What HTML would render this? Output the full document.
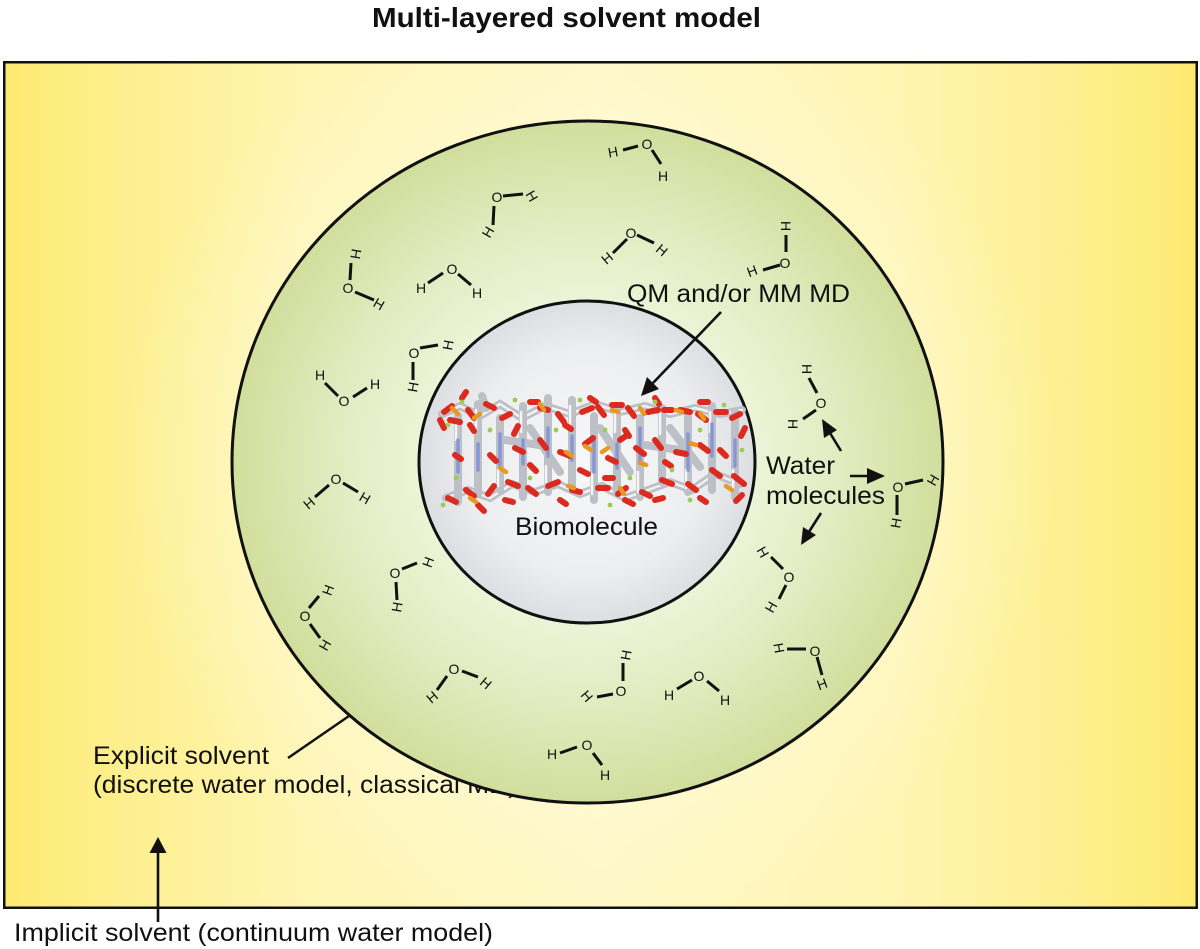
<!DOCTYPE html>
<html>
<head>
<meta charset="utf-8">
<style>
  html, body { margin: 0; padding: 0; background: #ffffff; }
  svg { display: block; }
  .lbl { font-family: "Liberation Sans", Arial, sans-serif; fill: #111; }
  .at { font-family: "Liberation Sans", Arial, sans-serif; font-size: 14px; fill: #111; text-anchor: middle; dominant-baseline: central; }
  .bd { stroke: #111; stroke-width: 3; }
</style>
</head>
<body>
<svg width="1200" height="949" viewBox="0 0 1200 949" xmlns="http://www.w3.org/2000/svg">
  <defs>
    <linearGradient id="yel" x1="0" y1="0" x2="1" y2="0">
      <stop offset="0" stop-color="#fdea72"/>
      <stop offset="0.1" stop-color="#fdef8e"/>
      <stop offset="0.25" stop-color="#fef5b2"/>
      <stop offset="0.5" stop-color="#fef8c6"/>
      <stop offset="0.75" stop-color="#fef5b2"/>
      <stop offset="0.9" stop-color="#fdef8e"/>
      <stop offset="1" stop-color="#fdea72"/>
    </linearGradient>
    <radialGradient id="yelGlow" gradientUnits="userSpaceOnUse" cx="587" cy="462" r="470">
      <stop offset="0.6" stop-color="#fffbe0" stop-opacity="0.7"/>
      <stop offset="0.8" stop-color="#fffad8" stop-opacity="0.3"/>
      <stop offset="1" stop-color="#fffad8" stop-opacity="0"/>
    </radialGradient>
    <radialGradient id="grn" cx="0.5" cy="0.5" r="0.5">
      <stop offset="0" stop-color="#f6f9e8"/>
      <stop offset="0.48" stop-color="#edf3d6"/>
      <stop offset="0.72" stop-color="#e1ebbf"/>
      <stop offset="1" stop-color="#d1de9c"/>
    </radialGradient>
    <radialGradient id="gry" cx="0.5" cy="0.5" r="0.5">
      <stop offset="0" stop-color="#f7f7f8"/>
      <stop offset="0.7" stop-color="#edeef0"/>
      <stop offset="1" stop-color="#dddee2"/>
    </radialGradient>
  </defs>

  <!-- Title -->
  <text class="lbl" x="372" y="27" font-size="28" font-weight="bold" textLength="389" lengthAdjust="spacingAndGlyphs">Multi-layered solvent model</text>

  <!-- Implicit solvent box -->
  <rect x="4.25" y="62.25" width="1192.5" height="845.5" fill="url(#yel)"/>
  <rect x="4.25" y="62.25" width="1192.5" height="845.5" fill="url(#yelGlow)"/>
  <rect x="4.25" y="62.25" width="1192.5" height="845.5" fill="none" stroke="#111" stroke-width="2.5"/>

  <!-- Explicit solvent label (partly hidden under circle) -->
  <text class="lbl" x="93" y="764" font-size="25" textLength="176" lengthAdjust="spacingAndGlyphs">Explicit solvent</text>
  <text class="lbl" x="93" y="793" font-size="25" textLength="424" lengthAdjust="spacingAndGlyphs">(discrete water model, classical MD)</text>
  <line x1="288" y1="758" x2="349" y2="716" stroke="#111" stroke-width="2.5"/>

  <!-- Outer circle -->
  <ellipse cx="587.5" cy="462" rx="355.5" ry="341" fill="url(#grn)" stroke="#111" stroke-width="3"/>

  <!-- Water molecules -->
  <g>
    <line class="bd" x1="623" y1="150" x2="638" y2="146"/><line class="bd" x1="652" y1="150" x2="661" y2="164"/>
    <text class="at" x="647" y="144">O</text>
    <text class="at" x="613" y="152" transform="rotate(-10 613 152)">H</text>
    <text class="at" x="663" y="176">H</text>

    <line class="bd" x1="503" y1="196" x2="523" y2="194"/><line class="bd" x1="494" y1="206" x2="493" y2="225"/>
    <text class="at" x="497" y="197">O</text>
    <text class="at" x="532" y="196" transform="rotate(60 532 196)">H</text>
    <text class="at" x="488" y="232" transform="rotate(-60 488 232)">H</text>

    <line class="bd" x1="627" y1="239" x2="613" y2="253"/><line class="bd" x1="637" y1="235" x2="654" y2="243"/>
    <text class="at" x="631" y="233">O</text>
    <text class="at" x="607" y="258" transform="rotate(-40 607 258)">H</text>
    <text class="at" x="662" y="250" transform="rotate(40 662 250)">H</text>

    <line class="bd" x1="428" y1="283" x2="443" y2="273"/><line class="bd" x1="458" y1="274" x2="471" y2="285"/>
    <text class="at" x="452" y="269">O</text>
    <text class="at" x="421" y="288">H</text>
    <text class="at" x="477" y="293">H</text>

    <line class="bd" x1="786" y1="235" x2="786" y2="252"/><line class="bd" x1="763" y1="270" x2="780" y2="265"/>
    <text class="at" x="785" y="263">O</text>
    <text class="at" x="786" y="226" transform="rotate(90 786 226)">H</text>
    <text class="at" x="752" y="271" transform="rotate(-20 752 271)">H</text>

    <line class="bd" x1="351" y1="263" x2="350" y2="280"/><line class="bd" x1="355" y1="292" x2="374" y2="300"/>
    <text class="at" x="348" y="288">O</text>
    <text class="at" x="356" y="254" transform="rotate(100 356 254)">H</text>
    <text class="at" x="379" y="304" transform="rotate(30 379 304)">H</text>

    <line class="bd" x1="325" y1="383" x2="338" y2="396"/><line class="bd" x1="353" y1="397" x2="367" y2="388"/>
    <text class="at" x="344" y="401">O</text>
    <text class="at" x="320" y="375">H</text>
    <text class="at" x="375" y="384">H</text>

    <line class="bd" x1="420" y1="348" x2="438" y2="345"/><line class="bd" x1="413" y1="362" x2="413" y2="380"/>
    <text class="at" x="414" y="353">O</text>
    <text class="at" x="448" y="345" transform="rotate(-80 448 345)">H</text>
    <text class="at" x="413" y="387" transform="rotate(-80 413 387)">H</text>

    <line class="bd" x1="329" y1="485" x2="315" y2="497"/><line class="bd" x1="343" y1="483" x2="358" y2="492"/>
    <text class="at" x="336" y="479">O</text>
    <text class="at" x="309" y="503" transform="rotate(-40 309 503)">H</text>
    <text class="at" x="365" y="498" transform="rotate(30 365 498)">H</text>

    <line class="bd" x1="402" y1="569" x2="417" y2="563"/><line class="bd" x1="396" y1="582" x2="397" y2="600"/>
    <text class="at" x="395" y="573">O</text>
    <text class="at" x="428" y="562" transform="rotate(-70 428 562)">H</text>
    <text class="at" x="397" y="607" transform="rotate(-80 397 607)">H</text>

    <line class="bd" x1="309" y1="608" x2="319" y2="596"/><line class="bd" x1="310" y1="624" x2="320" y2="638"/>
    <text class="at" x="305" y="616">O</text>
    <text class="at" x="328" y="590" transform="rotate(-70 328 590)">H</text>
    <text class="at" x="325" y="645" transform="rotate(-60 325 645)">H</text>

    <line class="bd" x1="447" y1="676" x2="437" y2="690"/><line class="bd" x1="462" y1="671" x2="478" y2="677"/>
    <text class="at" x="454" y="669">O</text>
    <text class="at" x="432" y="697" transform="rotate(-40 432 697)">H</text>
    <text class="at" x="486" y="683" transform="rotate(40 486 683)">H</text>

    <line class="bd" x1="623" y1="663" x2="623" y2="681"/><line class="bd" x1="597" y1="697" x2="613" y2="694"/>
    <text class="at" x="621" y="691">O</text>
    <text class="at" x="626" y="655" transform="rotate(-80 626 655)">H</text>
    <text class="at" x="587" y="696" transform="rotate(50 587 696)">H</text>

    <line class="bd" x1="677" y1="689" x2="692" y2="680"/><line class="bd" x1="707" y1="681" x2="719" y2="691"/>
    <text class="at" x="699" y="676">O</text>
    <text class="at" x="669" y="695">H</text>
    <text class="at" x="725" y="700">H</text>

    <line class="bd" x1="560" y1="753" x2="577" y2="747"/><line class="bd" x1="593" y1="753" x2="602" y2="765"/>
    <text class="at" x="587" y="745">O</text>
    <text class="at" x="552" y="754">H</text>
    <text class="at" x="605" y="775">H</text>

    <line class="bd" x1="771" y1="557" x2="783" y2="569"/><line class="bd" x1="786" y1="585" x2="779" y2="599"/>
    <text class="at" x="789" y="577">O</text>
    <text class="at" x="763" y="552" transform="rotate(60 763 552)">H</text>
    <text class="at" x="771" y="607" transform="rotate(-60 771 607)">H</text>

    <line class="bd" x1="787" y1="649" x2="806" y2="649"/><line class="bd" x1="817" y1="657" x2="822" y2="675"/>
    <text class="at" x="815" y="651">O</text>
    <text class="at" x="779" y="648" transform="rotate(80 779 648)">H</text>
    <text class="at" x="822" y="684" transform="rotate(-20 822 684)">H</text>

    <line class="bd" x1="809" y1="378" x2="817" y2="393"/><line class="bd" x1="803" y1="419" x2="816" y2="410"/>
    <text class="at" x="821" y="403">O</text>
    <text class="at" x="807" y="369" transform="rotate(90 807 369)">H</text>
    <text class="at" x="793" y="424" transform="rotate(90 793 424)">H</text>

    <line class="bd" x1="905" y1="484" x2="923" y2="480"/><line class="bd" x1="897" y1="495" x2="897" y2="515"/>
    <text class="at" x="898" y="487">O</text>
    <text class="at" x="933" y="480" transform="rotate(-60 933 480)">H</text>
    <text class="at" x="896" y="523" transform="rotate(-80 896 523)">H</text>
  </g>

  <!-- Inner circle -->
  <ellipse cx="587" cy="462" rx="168" ry="161" fill="url(#gry)" stroke="#111" stroke-width="3"/>

  <!-- Biomolecule (DNA approximation) -->
  <g stroke-linecap="round" fill="none">
    <!-- backbones gray -->
    <path d="M442 414 L460 406 L480 416 L500 404 L522 418 L545 406 L570 414 L595 404 L620 412 L645 406 L670 414 L695 408 L720 414 L742 410" stroke="#bcbfc5" stroke-width="8"/>
    <path d="M446 498 L468 490 L490 498 L512 484 L535 492 L558 484 L580 494 L602 486 L625 498 L648 490 L670 482 L692 490 L715 474 L740 484" stroke="#bcbfc5" stroke-width="8"/>
    <path d="M442 414 L460 406 L480 416 L500 404 L522 418 L545 406 L570 414 L595 404 L620 412 L645 406 L670 414 L695 408 L720 414 L742 410" stroke="#f2f2f3" stroke-width="2.5"/>
    <path d="M446 498 L468 490 L490 498 L512 484 L535 492 L558 484 L580 494 L602 486 L625 498 L648 490 L670 482 L692 490 L715 474 L740 484" stroke="#f2f2f3" stroke-width="2.5"/>
    <!-- rungs -->
    <g stroke="#bdc0c6" stroke-width="8">
      <line x1="458" y1="416" x2="458" y2="502"/>
      <line x1="478" y1="404" x2="478" y2="494"/>
      <line x1="500" y1="418" x2="500" y2="490"/>
      <line x1="523" y1="406" x2="523" y2="497"/>
      <line x1="548" y1="412" x2="548" y2="492"/>
      <line x1="572" y1="400" x2="572" y2="487"/>
      <line x1="594" y1="416" x2="594" y2="500"/>
      <line x1="617" y1="406" x2="617" y2="492"/>
      <line x1="640" y1="418" x2="640" y2="497"/>
      <line x1="662" y1="408" x2="662" y2="482"/>
      <line x1="688" y1="416" x2="688" y2="492"/>
      <line x1="712" y1="406" x2="712" y2="490"/>
      <line x1="735" y1="412" x2="735" y2="497"/>
      <line x1="530" y1="428" x2="560" y2="472"/>
      <line x1="600" y1="428" x2="630" y2="472"/>
      <line x1="670" y1="428" x2="700" y2="467"/>
      <line x1="505" y1="440" x2="540" y2="445"/>
      <line x1="645" y1="445" x2="680" y2="450"/>
      <line x1="548" y1="398" x2="548" y2="412"/>
      <line x1="482" y1="396" x2="486" y2="408"/>
    </g>
    <g stroke="#f6f6f7" stroke-width="2.5">
      <line x1="456" y1="420" x2="456" y2="440"/>
      <line x1="476" y1="410" x2="476" y2="430"/>
      <line x1="521" y1="412" x2="521" y2="432"/>
      <line x1="570" y1="406" x2="570" y2="428"/>
      <line x1="615" y1="412" x2="615" y2="432"/>
      <line x1="660" y1="414" x2="660" y2="434"/>
      <line x1="710" y1="412" x2="710" y2="432"/>
      <line x1="592" y1="474" x2="592" y2="494"/>
      <line x1="638" y1="472" x2="638" y2="492"/>
      <line x1="733" y1="470" x2="733" y2="490"/>
      <line x1="498" y1="470" x2="498" y2="486"/>
      <line x1="546" y1="466" x2="546" y2="486"/>
      <line x1="686" y1="470" x2="686" y2="488"/>
    </g>
    <!-- blue bases -->
    <g stroke="#8797d6" stroke-width="3.5">
      <line x1="458" y1="440" x2="458" y2="472"/>
      <line x1="500" y1="434" x2="500" y2="466"/>
      <line x1="523" y1="440" x2="523" y2="464"/>
      <line x1="548" y1="428" x2="548" y2="456"/>
      <line x1="594" y1="440" x2="594" y2="472"/>
      <line x1="640" y1="428" x2="640" y2="462"/>
      <line x1="688" y1="434" x2="688" y2="470"/>
      <line x1="712" y1="424" x2="712" y2="456"/>
      <line x1="735" y1="440" x2="735" y2="466"/>
      <line x1="478" y1="444" x2="478" y2="470"/>
      <line x1="617" y1="444" x2="617" y2="468"/>
      <line x1="572" y1="436" x2="572" y2="460"/>
    </g>
    <!-- red oxygens -->
    <path stroke="#dc2a1e" stroke-width="6" d="
      M444 412 l8 -6 M450 420 l10 2 M468 410 l6 8 M486 404 l8 4 M502 418 l8 -4 M518 426 l-4 8
      M540 408 l8 2 M558 414 l6 8 M582 412 l10 -4 M598 407 l6 8 M612 405 l10 0 M628 408 l6 8
      M648 412 l10 -2 M664 410 l8 0 M680 410 l10 2 M698 414 l8 6 M716 412 l10 0 M732 418 l8 -4
      M448 498 l8 4 M466 490 l8 6 M488 494 l6 -8 M508 482 l10 4 M528 488 l8 6 M548 486 l10 -4
      M572 490 l8 2 M598 488 l10 0 M618 494 l8 -6 M642 492 l8 4 M662 480 l10 4 M688 484 l8 6
      M712 470 l8 6 M734 476 l10 8 M478 505 l6 6 M625 500 l8 4
      M515 448 l8 4 M540 440 l6 8 M560 452 l10 4 M585 444 l8 -6 M608 458 l8 4 M636 448 l8 6
      M655 440 l6 8 M676 452 l10 2 M700 445 l8 6 M580 470 l8 4 M530 465 l6 6 M720 450 l6 6
      M470 425 l4 6 M455 455 l6 4 M565 425 l6 4 M625 430 l4 6
      M440 420 l4 8 M462 398 l4 -6 M530 402 l8 0 M590 398 l6 4 M655 398 l4 6 M700 402 l8 0
      M745 428 l-4 8 M742 495 l-6 6 M505 500 l8 2 M560 500 l6 4 M655 500 l8 -2 M700 498 l6 4
      M620 440 l6 -4 M665 462 l6 4 M490 455 l6 6 M605 478 l8 0"/>
    <!-- orange phosphorus -->
    <path stroke="#e69a22" stroke-width="4.5" d="
      M452 408 l6 6 M474 418 l6 -4 M540 404 l4 6 M566 452 l6 4 M585 446 l6 4 M612 410 l6 2
      M640 408 l4 6 M676 410 l6 2 M700 413 l4 6 M640 463 l6 2 M568 486 l6 2 M620 488 l4 6
      M500 468 l6 4 M690 443 l6 2 M726 486 l6 4 M470 498 l6 4 M602 452 l6 -4"/>
  </g>
  <g fill="#9ccd52">
    <circle cx="448" cy="425" r="2.4"/><circle cx="462" cy="402" r="2.4"/><circle cx="490" cy="430" r="2.4"/>
    <circle cx="515" cy="400" r="2.4"/><circle cx="530" cy="478" r="2.4"/><circle cx="556" cy="430" r="2.4"/>
    <circle cx="580" cy="400" r="2.4"/><circle cx="605" cy="430" r="2.4"/><circle cx="630" cy="478" r="2.4"/>
    <circle cx="655" cy="402" r="2.4"/><circle cx="672" cy="470" r="2.4"/><circle cx="700" cy="430" r="2.4"/>
    <circle cx="724" cy="405" r="2.4"/><circle cx="742" cy="450" r="2.4"/><circle cx="456" cy="478" r="2.4"/>
    <circle cx="610" cy="505" r="2.4"/><circle cx="443" cy="505" r="2.4"/><circle cx="690" cy="500" r="2.4"/>
  </g>

  <!-- Labels -->
  <text class="lbl" x="515" y="535" font-size="25" textLength="143" lengthAdjust="spacingAndGlyphs">Biomolecule</text>
  <text class="lbl" x="627" y="302" font-size="25" textLength="223" lengthAdjust="spacingAndGlyphs">QM and/or MM MD</text>
  <text class="lbl" x="766" y="474" font-size="25" textLength="69" lengthAdjust="spacingAndGlyphs">Water</text>
  <text class="lbl" x="766" y="504" font-size="25" textLength="119" lengthAdjust="spacingAndGlyphs">molecules</text>
  <text class="lbl" x="14" y="941" font-size="25" textLength="479" lengthAdjust="spacingAndGlyphs">Implicit solvent (continuum water model)</text>

  <!-- Arrows -->
  <g stroke="#111" stroke-width="2.6">
    <line x1="721" y1="312" x2="653" y2="383"/>
    <line x1="841" y1="451" x2="830" y2="433"/>
    <line x1="850" y1="476" x2="870" y2="476"/>
    <line x1="821" y1="513" x2="809.5" y2="531"/>
    <line x1="158" y1="922" x2="158" y2="852"/>
  </g>
  <g fill="#111">
    <polygon points="641,396 659,389 647,377"/>
    <polygon points="822,419 837,430 824,438"/>
    <polygon points="885,476 867,468 867,484"/>
    <polygon points="801,545 816,535 803,527"/>
    <polygon points="158,837 149.5,853 166.5,853"/>
  </g>
</svg>
</body>
</html>
